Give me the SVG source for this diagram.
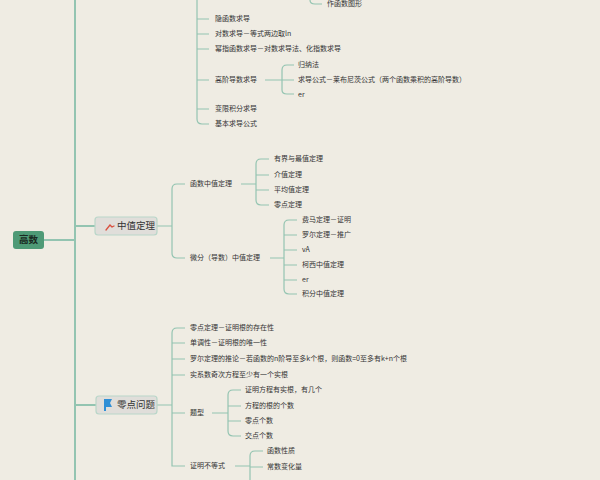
<svg xmlns="http://www.w3.org/2000/svg" width="600" height="480" viewBox="0 0 600 480">
<style>
.c{fill:none;stroke:#93c4b1;stroke-width:1.2}
.t{stroke-width:2}
text{font-family:"Noto Sans CJK SC","Liberation Sans",sans-serif;fill:#333;font-size:7px;dominant-baseline:middle}
.m{font-size:9.5px}
.n{fill:#e0deda;stroke:#b9d6c9;stroke-width:1.2}
</style>
<rect width="600" height="480" fill="#efece3"/>
<g id="connectors">
<path class="c t" d="M44 240H75M75 0V480M75 226H95M75 405H96"/>
<path class="c" d="M75 0V0M197 0V119q0 5 5 5h7M197 19h12M197 34h12M197 49h12M197 80h12M197 109h12"/>
<path class="c" d="M310 0V0q0 4 5 4h7M265 80h17M282 80V70q0-5 5-5h7M282 80h12M282 80v10q0 4 5 4h7"/>
<path class="c" d="M157 226h15M172 226V189q0-5 5-5h8M172 226V253q0 5 5 5h8"/>
<path class="c" d="M241 184h15M256 184V164q0-5 5-5h8M256 175h13M256 190h13M256 184V200q0 5 5 5h8"/>
<path class="c" d="M270 258h14M284 258V225q0-5 5-5h8M284 235h13M284 250h13M284 265h13M284 280h13M284 258V289q0 5 5 5h8"/>
<path class="c" d="M157 405h15M172 405V333q0-5 5-5h8M172 343h13M172 359h13M172 375h13M172 413h13M172 405V466h13"/>
<path class="c" d="M212 413h16M228 413V395q0-5 5-5h8M228 406h13M228 421h13M228 413V431q0 5 5 5h8"/>
<path class="c" d="M235 466h15M250 466V456q0-5 5-5h8M250 467h13M250 466V480"/>
</g>
<g id="root"><rect x="13" y="231" width="31" height="18" rx="3" fill="#4e9a76"/><text class="m" x="28.5" y="240.5" text-anchor="middle" style="font-weight:bold;fill:#1a2a22">高数</text></g>
<g id="deriv">
<text x="327" y="4">作函数图形</text>
<text x="215" y="19">隐函数求导</text>
<text x="215" y="34">对数求导－等式两边取ln</text>
<text x="215" y="49">幂指函数求导－对数求导法、化指数求导</text>
<text x="215" y="80">高阶导数求导</text>
<text x="298" y="65">归纳法</text>
<text x="298" y="80">求导公式－莱布尼茨公式（两个函数乘积的高阶导数）</text>
<text x="298" y="95">er</text>
<text x="215" y="109">变限积分求导</text>
<text x="215" y="124">基本求导公式</text>
</g>
<g id="mvt">
<rect class="n" x="95" y="217" width="62" height="18" rx="3"/>
<g stroke="#d9503f" stroke-width="1.3" stroke-linecap="round"><path d="M106 230l4-5M110 225l2 2M112 227l2-1"/></g>
<text class="m" x="117" y="226.5">中值定理</text>
<text x="190" y="184">函数中值定理</text>
<text x="274" y="159">有界与最值定理</text>
<text x="274" y="175">介值定理</text>
<text x="274" y="190">平均值定理</text>
<text x="274" y="205">零点定理</text>
<text x="190" y="258">微分（导数）中值定理</text>
<text x="302" y="220">费马定理－证明</text>
<text x="302" y="235">罗尔定理－推广</text>
<text x="302" y="250">vA</text>
<text x="302" y="265">柯西中值定理</text>
<text x="302" y="280">er</text>
<text x="302" y="294">积分中值定理</text>
</g>
<g id="zero">
<rect class="n" x="96" y="396" width="61" height="18" rx="3"/>
<path d="M104 399h8l-2 4 2 4h-6v4h-2z" fill="#2f8fd6"/>
<text class="m" x="117" y="405.5">零点问题</text>
<text x="190" y="328">零点定理－证明根的存在性</text>
<text x="190" y="343">单调性－证明根的唯一性</text>
<text x="190" y="359">罗尔定理的推论－若函数的n阶导至多k个根，则函数=0至多有k+n个根</text>
<text x="190" y="375">实系数奇次方程至少有一个实根</text>
<text x="190" y="413">题型</text>
<text x="245" y="390">证明方程有实根，有几个</text>
<text x="245" y="406">方程的根的个数</text>
<text x="245" y="421">零点个数</text>
<text x="245" y="436">交点个数</text>
<text x="190" y="466">证明不等式</text>
<text x="267" y="451">函数性质</text>
<text x="267" y="467">常数变化量</text>
</g>
</svg>
